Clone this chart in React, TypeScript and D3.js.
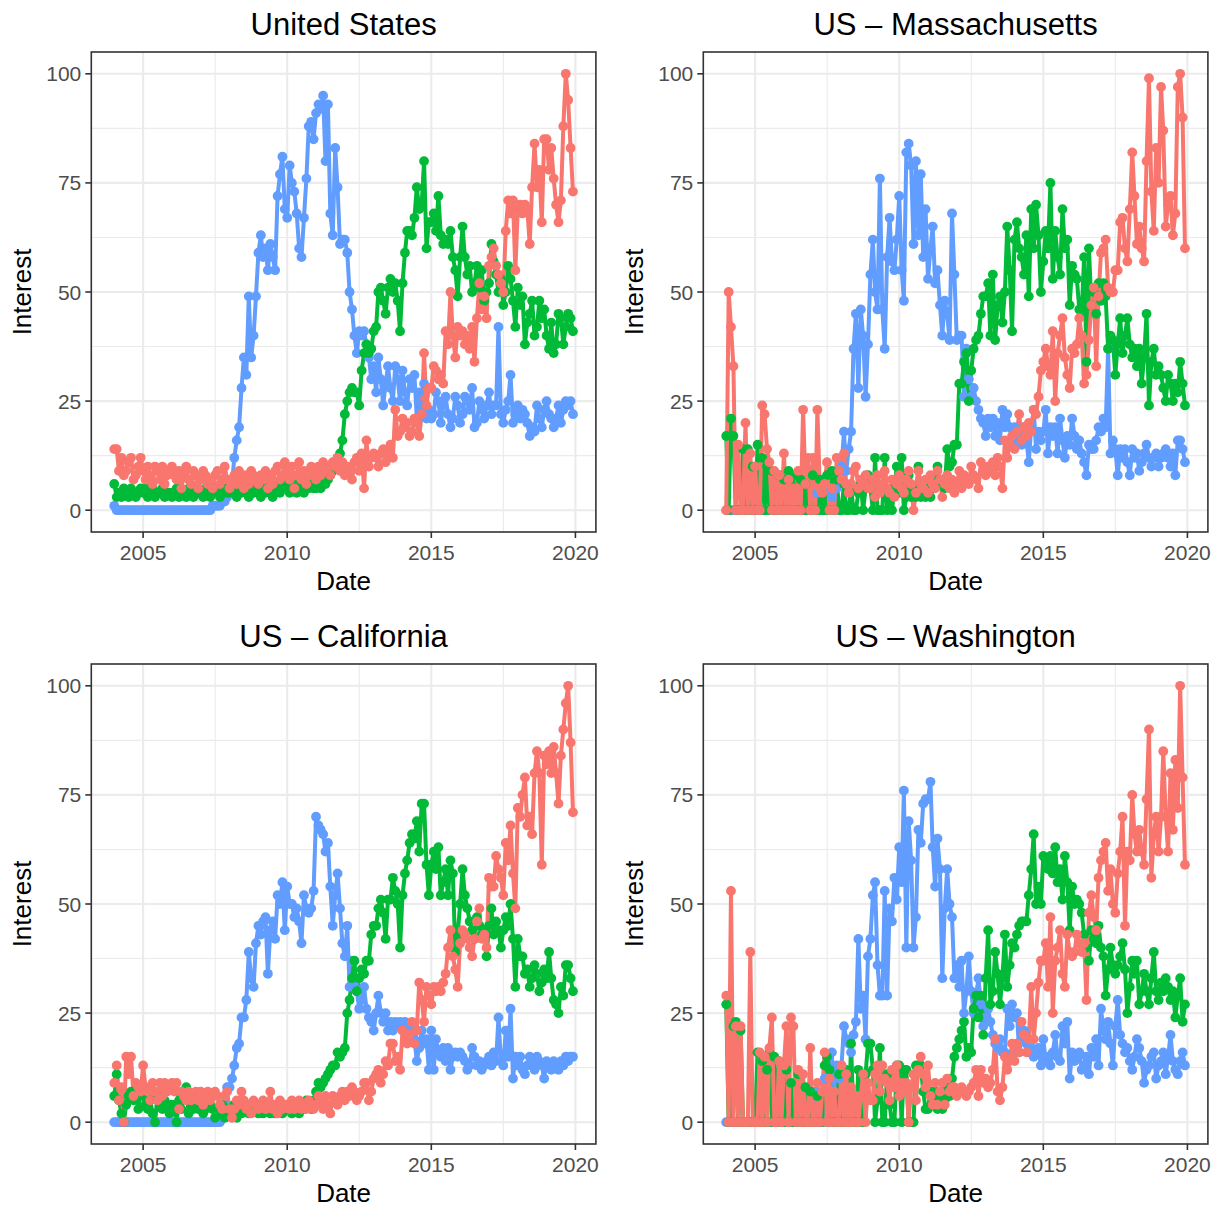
import React from "react";
import * as d3 from "d3";

// Monthly search interest, Jan 2004 – Dec 2019, one row per year.
const usRed = [
  14, 14, 9, 12, 8, 9, 11, 12, 7, 8, 10, 12,
  9, 7, 10, 8, 6, 10, 9, 7, 10, 6, 8, 9,
  10, 8, 7, 9, 5, 8, 10, 7, 6, 9, 8, 5,
  7, 9, 8, 6, 7, 5, 8, 9, 6, 7, 10, 7,
  5, 7, 8, 6, 9, 7, 5, 8, 6, 9, 8, 7,
  6, 8, 7, 9, 5, 8, 6, 9, 10, 7, 8, 11,
  9, 7, 10, 5, 8, 11, 7, 9, 6, 8, 10, 9,
  7, 10, 8, 11, 9, 10, 8, 11, 10, 12, 9, 11,
  8, 10, 9, 7, 11, 12, 9, 13, 5, 16, 10, 12,
  13, 12, 10, 13, 14, 11, 13, 15, 12, 23, 17, 18,
  21, 19, 20, 17, 18, 21, 20, 17, 22, 36, 24, 28,
  28, 33, 32, 30, 31, 29, 41, 38, 50, 40, 35, 42,
  40, 41, 38, 40, 37, 42, 34, 44, 52, 46, 49, 44,
  56, 58, 60, 56, 54, 52, 50, 64, 71, 68, 71, 55,
  69, 70, 68, 70, 69, 61, 74, 84, 74, 78, 66, 85,
  85, 78, 83, 76, 70, 66, 71, 88, 100, 94, 83, 73,
];
const usGreen = [
  6, 3, 4, 3, 5, 4, 3, 5, 4, 3, 4, 5,
  4, 5, 3, 4, 5, 3, 4, 4, 5, 3, 4, 4,
  3, 4, 5, 3, 4, 4, 3, 5, 4, 3, 4, 4,
  4, 3, 5, 4, 3, 4, 5, 4, 3, 4, 5, 4,
  4, 5, 4, 3, 5, 4, 5, 4, 3, 5, 4, 5,
  4, 3, 5, 4, 5, 4, 3, 5, 6, 4, 5, 6,
  5, 4, 6, 5, 4, 6, 5, 4, 6, 5, 6, 5,
  5, 6, 5, 7, 6, 7, 8, 9, 10, 12, 13, 16,
  22, 25, 27, 28, 27, 27, 24, 32, 36, 38, 36, 37,
  41, 42, 50, 51, 48, 45, 51, 53, 50, 52, 48, 41,
  52, 59, 64, 64, 63, 67, 74, 69, 70, 80, 60, 66,
  66, 68, 64, 72, 63, 61, 62, 61, 64, 58, 55, 49,
  58, 65, 58, 54, 56, 50, 52, 56, 51, 55, 48, 50,
  52, 61, 57, 54, 50, 53, 47, 50, 56, 53, 48, 42,
  51, 47, 49, 38, 43, 45, 48, 40, 42, 48, 44, 46,
  40, 37, 43, 36, 38, 45, 44, 38, 42, 45, 44, 41,
];
const usBlue = [
  1, 0, 0, 0, 0, 0, 0, 0, 0, 0, 0, 0,
  0, 0, 0, 0, 0, 0, 0, 0, 0, 0, 0, 0,
  0, 0, 0, 0, 0, 0, 0, 0, 0, 0, 0, 0,
  0, 0, 0, 0, 0, 1, 1, 1, 1, 2, 2, 3,
  4, 6, 12, 16, 19, 28, 35, 31, 49, 35, 40, 49,
  59, 63, 58, 60, 55, 61, 58, 55, 72, 77, 81, 69,
  67, 79, 75, 73, 68, 60, 58, 67, 76, 88, 89, 85,
  91, 93, 92, 95, 80, 93, 68, 63, 83, 74, 61, 62,
  62, 59, 50, 46, 40, 36, 41, 40, 41, 38, 35, 30,
  33, 27, 35, 30, 24, 29, 33, 28, 25, 33, 30, 25,
  32, 27, 24, 30, 28, 31, 21, 27, 24, 29, 21, 23,
  21, 22, 27, 25, 20, 24, 26, 22, 19, 21, 26, 24,
  20, 22, 26, 25, 23, 28, 19, 20, 25, 23, 21, 24,
  27, 22, 24, 24, 42, 22, 20, 23, 25, 31, 20, 22,
  24, 21, 23, 22, 20, 17, 19, 18, 24, 21, 19, 23,
  25, 22, 21, 19, 21, 24, 20, 23, 25, 24, 25, 22,
];

const maRed = [
  0, 50, 42, 33, 0, 15, 0, 0, 20, 0, 13, 0,
  10, 0, 0, 24, 22, 14, 11, 0, 9, 0, 8, 0,
  13, 0, 7, 0, 5, 0, 9, 0, 23, 6, 12, 0,
  12, 0, 23, 5, 4, 6, 11, 0, 5, 0, 12, 9,
  7, 13, 6, 4, 6, 9, 10, 5, 7, 6, 8, 5,
  5, 7, 3, 8, 4, 6, 9, 5, 4, 7, 3, 6,
  8, 5, 4, 7, 9, 6, 0, 4, 9, 6, 5, 7,
  4, 8, 6, 5, 9, 7, 3, 6, 8, 5, 7, 4,
  6, 9, 5, 8, 7, 6, 10, 8, 7, 5, 11, 9,
  8, 10, 9, 11, 8, 12, 10, 5, 16, 12, 15, 17,
  14, 18, 22, 16, 19, 17, 20, 18, 23, 22, 26, 32,
  34, 37, 33, 31, 41, 25, 36, 40, 44, 35, 31, 28,
  37, 36, 38, 44, 40, 29, 31, 39, 47, 51, 33, 49,
  59, 60, 62, 51, 50, 50, 55, 55, 66, 67, 60, 57,
  69, 82, 72, 61, 65, 60, 57, 80, 99, 73, 64, 83,
  75, 97, 87, 65, 70, 72, 63, 68, 97, 100, 90, 60,
];
const maGreen = [
  17, 0, 21, 17, 0, 0, 0, 14, 0, 14, 0, 10,
  0, 15, 0, 12, 0, 10, 0, 9, 0, 0, 8, 0,
  7, 0, 9, 0, 8, 0, 0, 7, 0, 6, 0, 0,
  8, 0, 0, 7, 0, 0, 8, 0, 9, 0, 7, 0,
  0, 6, 0, 0, 5, 0, 0, 4, 6, 0, 5, 8,
  5, 0, 12, 0, 0, 0, 12, 0, 4, 0, 5, 10,
  4, 12, 0, 3, 8, 3, 5, 3, 10, 3, 6, 3,
  7, 3, 5, 7, 10, 6, 7, 5, 14, 10, 11, 15,
  15, 29, 29, 34, 36, 25, 32, 37, 39, 40, 45, 49,
  49, 52, 40, 54, 39, 47, 49, 43, 50, 65, 55, 41,
  62, 66, 60, 58, 54, 63, 49, 69, 60, 70, 63, 50,
  57, 64, 60, 75, 53, 64, 58, 54, 69, 60, 62, 47,
  56, 54, 53, 46, 45, 58, 34, 60, 47, 50, 45, 52,
  48, 52, 49, 37, 40, 39, 31, 38, 44, 36, 40, 44,
  38, 35, 37, 33, 37, 29, 35, 45, 24, 34, 37, 31,
  33, 31, 28, 25, 31, 29, 25, 29, 27, 34, 29, 24,
];
const maBlue = [
  0, 0, 0, 0, 0, 0, 0, 0, 0, 0, 0, 0,
  0, 0, 0, 0, 0, 0, 0, 0, 0, 0, 0, 0,
  0, 0, 0, 0, 0, 0, 0, 0, 0, 0, 0, 0,
  0, 0, 4, 0, 6, 0, 0, 5, 3, 0, 5, 8,
  10, 18, 9, 14, 18, 37, 45, 28, 46, 40, 26, 38,
  54, 62, 50, 46, 76, 46, 37, 58, 67, 57, 55, 62,
  72, 55, 48, 82, 84, 79, 61, 80, 63, 77, 58, 69,
  53, 60, 65, 52, 55, 47, 40, 48, 45, 39, 68, 54,
  39, 40, 40, 26, 37, 30, 26, 28, 25, 23, 21, 20,
  17, 21, 19, 21, 17, 20, 16, 23, 19, 22, 19, 16,
  19, 16, 17, 15, 19, 16, 11, 19, 23, 14, 18, 16,
  18, 23, 13, 19, 17, 19, 13, 21, 16, 12, 17, 15,
  21, 17, 14, 16, 13, 11, 8, 15, 14, 14, 16, 19,
  18, 21, 19, 37, 13, 16, 14, 8, 14, 12, 14, 11,
  8, 14, 12, 13, 9, 11, 13, 15, 12, 10, 12, 13,
  10, 12, 13, 14, 12, 10, 13, 8, 16, 16, 14, 11,
];

const caRed = [
  9, 13, 5, 8, 0, 15, 11, 15, 6, 9, 8, 7,
  13, 8, 7, 5, 9, 7, 5, 9, 6, 9, 7, 8,
  9, 7, 9, 3, 7, 6, 5, 7, 5, 6, 7, 5,
  7, 4, 6, 7, 5, 6, 7, 6, 4, 3, 6, 7,
  3, 1, 3, 5, 4, 7, 5, 3, 4, 2, 5, 4,
  3, 4, 5, 3, 4, 7, 3, 4, 2, 5, 3, 4,
  4, 3, 5, 3, 4, 5, 3, 4, 3, 5, 4, 3,
  4, 6, 5, 3, 6, 4, 2, 6, 5, 4, 6, 7,
  5, 7, 6, 8, 7, 5, 6, 7, 9, 9, 5, 7,
  10, 11, 12, 9, 11, 14, 13, 18, 18, 14, 15, 12,
  21, 19, 18, 20, 23, 18, 21, 32, 28, 23, 31, 29,
  27, 31, 30, 31, 30, 32, 34, 40, 44, 38, 35, 31,
  41, 44, 43, 42, 40, 38, 42, 46, 49, 42, 43, 40,
  56, 54, 54, 61, 58, 56, 52, 64, 60, 68, 57, 49,
  72, 70, 75, 79, 68, 70, 66, 80, 85, 80, 59, 84,
  82, 85, 80, 86, 80, 73, 84, 90, 96, 100, 87, 71,
];
const caGreen = [
  6, 11, 5, 2, 0, 4, 6, 7, 5, 6, 3, 7,
  6, 4, 3, 5, 2, 0, 6, 4, 3, 5, 4, 2,
  4, 3, 0, 5, 3, 6, 8, 2, 4, 3, 5, 3,
  4, 2, 3, 5, 4, 3, 1, 3, 2, 4, 1, 3,
  2, 3, 4, 1, 3, 2, 4, 3, 2, 3, 4, 3,
  2, 3, 2, 4, 3, 2, 3, 2, 4, 3, 2, 3,
  3, 4, 2, 3, 3, 2, 4, 3, 5, 4, 3, 5,
  7, 9, 8, 9, 10, 11, 12, 13, 13, 16, 15, 16,
  17, 25, 28, 33, 37, 30, 33, 35, 34, 37, 37, 43,
  45, 45, 49, 51, 48, 42, 51, 51, 56, 53, 50, 40,
  52, 57, 60, 64, 66, 65, 69, 62, 73, 73, 59, 52,
  59, 62, 58, 63, 52, 55, 58, 52, 60, 57, 39, 43,
  50, 58, 52, 49, 46, 44, 42, 47, 45, 43, 44, 38,
  45, 49, 43, 46, 44, 40, 44, 47, 45, 50, 42, 31,
  42, 38, 38, 34, 35, 31, 33, 36, 34, 30, 32, 35,
  33, 39, 33, 28, 27, 25, 31, 29, 36, 36, 33, 30,
];
const caBlue = [
  0, 0, 0, 0, 0, 0, 0, 0, 0, 0, 0, 0,
  0, 0, 0, 0, 0, 0, 0, 0, 0, 0, 0, 0,
  0, 0, 0, 0, 0, 0, 0, 0, 0, 0, 0, 0,
  0, 0, 0, 0, 0, 0, 0, 0, 0, 2, 4, 8,
  8, 10, 13, 17, 18, 24, 24, 28, 39, 33, 31, 41,
  45, 43, 46, 47, 34, 44, 46, 42, 52, 50, 55, 44,
  54, 50, 50, 47, 49, 46, 41, 52, 49, 48, 49, 53,
  70, 68, 67, 66, 62, 64, 54, 45, 52, 57, 49, 41,
  38, 45, 31, 37, 32, 30, 26, 28, 31, 26, 24, 23,
  21, 25, 29, 25, 23, 25, 21, 23, 21, 23, 22, 23,
  21, 23, 20, 22, 21, 19, 14, 17, 21, 18, 19, 12,
  21, 12, 19, 16, 15, 17, 14, 17, 12, 15, 16, 15,
  16, 15, 14, 12, 13, 17, 15, 13, 14, 12, 13, 14,
  15, 13, 16, 14, 24, 14, 13, 21, 15, 26, 10, 15,
  13, 15, 12, 11, 13, 15, 14, 12, 15, 14, 13, 10,
  14, 13, 12, 14, 13, 12, 14, 13, 15, 14, 15, 15,
];

const waRed = [
  29, 0, 53, 0, 22, 0, 22, 0, 0, 0, 39, 0,
  0, 0, 16, 0, 15, 0, 17, 24, 0, 0, 14, 0,
  13, 22, 0, 24, 22, 0, 12, 0, 11, 0, 0, 17,
  0, 0, 9, 0, 7, 16, 0, 10, 0, 7, 0, 0,
  13, 0, 11, 0, 8, 0, 6, 0, 6, 11, 0, 9,
  5, 5, 11, 13, 7, 13, 10, 9, 5, 12, 8, 13,
  6, 9, 7, 9, 0, 8, 11, 5, 12, 15, 11, 8,
  13, 6, 4, 9, 4, 7, 9, 4, 10, 7, 8, 8,
  6, 7, 8, 7, 6, 7, 8, 9, 12, 6, 12, 9,
  10, 8, 9, 12, 19, 7, 5, 8, 15, 12, 14, 18,
  14, 18, 16, 23, 20, 16, 19, 31, 19, 25, 32, 37,
  37, 41, 31, 47, 25, 37, 40, 44, 34, 31, 43, 39,
  38, 39, 43, 41, 39, 41, 28, 48, 52, 47, 44, 56,
  60, 62, 64, 53, 58, 50, 48, 57, 62, 70, 45, 62,
  60, 75, 66, 62, 67, 62, 59, 74, 90, 56, 66, 70,
  62, 70, 85, 70, 62, 80, 67, 83, 72, 100, 79, 59,
];
const waGreen = [
  27, 0, 0, 22, 23, 0, 21, 0, 0, 0, 0, 0,
  0, 16, 0, 14, 0, 12, 16, 0, 15, 0, 14, 0,
  0, 12, 0, 9, 0, 0, 11, 0, 0, 8, 0, 7,
  0, 0, 6, 0, 0, 13, 15, 12, 0, 0, 0, 11,
  0, 0, 12, 0, 18, 0, 0, 12, 0, 0, 11, 18,
  18, 12, 0, 5, 17, 0, 0, 11, 4, 0, 0, 13,
  13, 0, 12, 12, 0, 0, 0, 13, 13, 13, 7, 3,
  3, 7, 5, 7, 3, 6, 3, 5, 8, 6, 10, 15,
  17, 19, 21, 23, 15, 17, 16, 26, 29, 24, 29, 20,
  33, 44, 27, 30, 39, 34, 27, 33, 43, 31, 36, 41,
  40, 43, 45, 46, 46, 46, 52, 58, 66, 50, 54, 50,
  61, 60, 58, 61, 57, 63, 55, 58, 51, 61, 55, 44,
  54, 50, 51, 50, 48, 43, 40, 37, 44, 42, 41, 45,
  40, 38, 29, 35, 40, 36, 34, 36, 38, 41, 35, 25,
  31, 37, 34, 37, 27, 30, 34, 30, 27, 33, 39, 30,
  28, 32, 30, 33, 31, 28, 30, 24, 29, 33, 23, 27,
];
const waBlue = [
  0, 0, 0, 0, 0, 0, 0, 0, 0, 0, 0, 0,
  0, 0, 0, 0, 0, 0, 0, 0, 0, 0, 0, 0,
  0, 0, 0, 0, 0, 0, 0, 0, 0, 0, 0, 0,
  0, 7, 0, 0, 0, 10, 0, 0, 16, 0, 13, 10,
  13, 22, 19, 18, 16, 20, 23, 42, 26, 29, 19, 38,
  42, 52, 55, 36, 29, 29, 53, 29, 49, 46, 56, 51,
  63, 55, 76, 40, 69, 60, 40, 47, 67, 64, 73, 74,
  74, 78, 63, 54, 65, 58, 33, 49, 58, 50, 47, 33,
  36, 31, 37, 25, 30, 38, 30, 25, 29, 33, 27, 22,
  24, 26, 23, 20, 18, 17, 19, 16, 16, 26, 22, 27,
  24, 25, 16, 19, 21, 18, 16, 17, 15, 16, 17, 13,
  19, 14, 15, 13, 16, 20, 15, 14, 22, 18, 23, 10,
  16, 14, 15, 16, 12, 13, 15, 11, 17, 15, 19, 13,
  26, 21, 19, 23, 18, 13, 22, 28, 20, 18, 16, 17,
  14, 12, 15, 19, 17, 14, 9, 12, 13, 15, 16, 10,
  13, 14, 16, 11, 15, 20, 14, 12, 11, 14, 16, 13,
];

const panelTitles = ["United States", "US – Massachusetts", "US – California", "US – Washington"];
const yTicks = [0, 25, 50, 75, 100];
const xTickYears = [2005, 2010, 2015, 2020];

const months = d3.utcMonth.range(new Date(Date.UTC(2004, 0, 1)), new Date(Date.UTC(2020, 0, 1)));

const panels = [
  { title: panelTitles[0], red: usRed, green: usGreen, blue: usBlue },
  { title: panelTitles[1], red: maRed, green: maGreen, blue: maBlue },
  { title: panelTitles[2], red: caRed, green: caGreen, blue: caBlue },
  { title: panelTitles[3], red: waRed, green: waGreen, blue: waBlue },
];

const COLORS = { red: "#F8766D", green: "#00BA38", blue: "#619CFF" };
const FONT = "'Liberation Sans', Arial, Helvetica, sans-serif";

const PW = 504.6;
const PH = 480;
const LEFTS = [91.3, 703.3];
const TOPS = [52, 664];

const t0 = months[0].getTime();
const t1 = months[months.length - 1].getTime();
const pad = (t1 - t0) * 0.05;
const xScale = d3.scaleUtc().domain([new Date(t0 - pad), new Date(t1 + pad)]).range([0, PW]);
const yScale = d3.scaleLinear().domain([-5, 105]).range([PH, 0]);

const yearDate = (y: number) => new Date(Date.UTC(y, 0, 1));
const xMajor = xTickYears.map(yearDate);
const xMinor = xMajor.slice(0, -1).map((d, i) => new Date((d.getTime() + xMajor[i + 1].getTime()) / 2));
const yMinor = yTicks.slice(0, -1).map((v, i) => (v + yTicks[i + 1]) / 2);

function Panel({ p, left, top }: { p: any; left: number; top: number }) {
  const line = d3
    .line<number>()
    .x((_, i) => xScale(months[i]))
    .y((d) => yScale(d));
  const order: ("blue" | "green" | "red")[] = ["blue", "green", "red"];
  return (
    <g transform={`translate(${left},${top})`}>
      <rect x={0} y={0} width={PW} height={PH} fill="#FFFFFF" />
      {yMinor.map((v) => (
        <line key={"ym" + v} x1={0} x2={PW} y1={yScale(v)} y2={yScale(v)} stroke="#EBEBEB" strokeWidth={1.1} />
      ))}
      {xMinor.map((d, i) => (
        <line key={"xm" + i} x1={xScale(d)} x2={xScale(d)} y1={0} y2={PH} stroke="#EBEBEB" strokeWidth={1.1} />
      ))}
      {yTicks.map((v) => (
        <line key={"yg" + v} x1={0} x2={PW} y1={yScale(v)} y2={yScale(v)} stroke="#EBEBEB" strokeWidth={2.1} />
      ))}
      {xMajor.map((d, i) => (
        <line key={"xg" + i} x1={xScale(d)} x2={xScale(d)} y1={0} y2={PH} stroke="#EBEBEB" strokeWidth={2.1} />
      ))}
      {order.map((k) => (
        <path key={"l" + k} d={line(p[k]) || ""} fill="none" stroke={COLORS[k]} strokeWidth={4} strokeLinejoin="round" />
      ))}
      {order.map((k) => (
        <g key={"p" + k} fill={COLORS[k]}>
          {(p[k] as number[]).map((v, i) => (
            <circle key={i} cx={xScale(months[i])} cy={yScale(v)} r={4.9} />
          ))}
        </g>
      ))}
      <rect x={0} y={0} width={PW} height={PH} fill="none" stroke="#333333" strokeWidth={1.6} />
      {yTicks.map((v) => (
        <g key={"yt" + v}>
          <line x1={-6} x2={0} y1={yScale(v)} y2={yScale(v)} stroke="#333333" strokeWidth={1.6} />
          <text x={-10} y={yScale(v) + 7.5} textAnchor="end" fontSize={21} fill="#4D4D4D" fontFamily={FONT}>
            {v}
          </text>
        </g>
      ))}
      {xMajor.map((d, i) => (
        <g key={"xt" + i}>
          <line x1={xScale(d)} x2={xScale(d)} y1={PH} y2={PH + 6} stroke="#333333" strokeWidth={1.6} />
          <text x={xScale(d)} y={PH + 28} textAnchor="middle" fontSize={21} fill="#4D4D4D" fontFamily={FONT}>
            {xTickYears[i]}
          </text>
        </g>
      ))}
      <text x={PW / 2} y={-17} textAnchor="middle" fontSize={31} fill="#000000" fontFamily={FONT}>
        {p.title}
      </text>
      <text x={PW / 2} y={PH + 58} textAnchor="middle" fontSize={26} fill="#000000" fontFamily={FONT}>
        Date
      </text>
      <text
        transform={`translate(${-60.3},${PH / 2}) rotate(-90)`}
        textAnchor="middle"
        fontSize={26}
        fill="#000000"
        fontFamily={FONT}
      >
        Interest
      </text>
    </g>
  );
}

export default function App() {
  return (
    <svg
      width={1221}
      height={1206}
      style={{ position: "absolute", left: 0, top: 0, background: "#FFFFFF" }}
    >
      <rect x={0} y={0} width={1221} height={1206} fill="#FFFFFF" />
      {panels.map((p, i) => (
        <Panel key={i} p={p} left={LEFTS[i % 2]} top={TOPS[Math.floor(i / 2)]} />
      ))}
    </svg>
  );
}
